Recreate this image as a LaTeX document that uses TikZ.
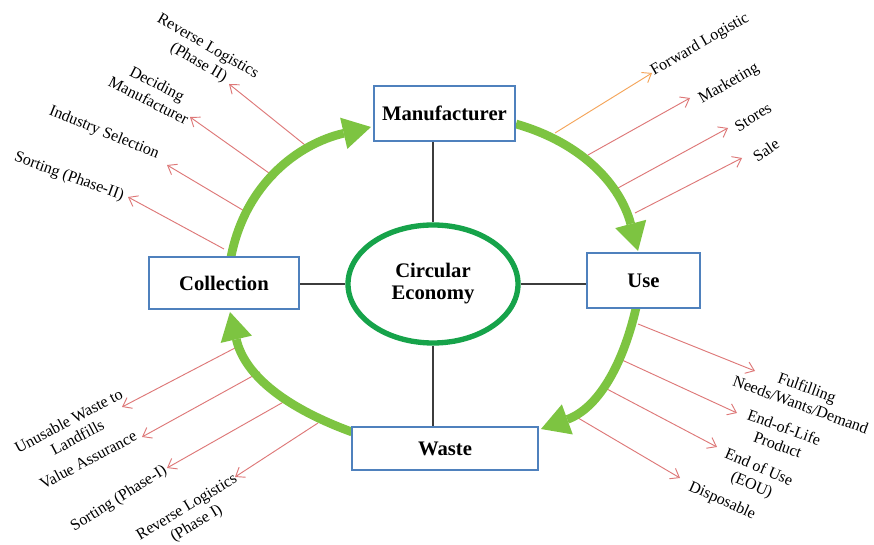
\documentclass[tikz,border=0pt]{standalone}
\usepackage{fontspec}
\setmainfont{Liberation Serif}
\usetikzlibrary{arrows.meta,shapes.geometric}
\definecolor{arcgreen}{RGB}{125,196,65}
\definecolor{ringgreen}{RGB}{22,163,74}
\definecolor{boxblue}{RGB}{79,129,189}
\definecolor{linkgray}{RGB}{60,60,60}
\definecolor{rayred}{RGB}{222,120,120}
\definecolor{rayorange}{RGB}{245,165,90}
\begin{document}
\begin{tikzpicture}[x=0.75pt,y=0.75pt,
  box/.style={draw=boxblue,line width=1.5pt,fill=white,inner sep=0pt,font=\fontsize{15.5}{18}\selectfont\bfseries},
  flow/.style={draw=arcgreen,line width=6.5pt,-{Triangle[length=21pt,width=24pt,line width=0pt]}},
  lnk/.style={draw=linkgray,line width=0.9pt},
  ray/.style={draw=rayred,line width=0.7pt,-{Straight Barb[length=6pt,width=9pt]}},
  lbl/.style={font=\fontsize{12}{14}\selectfont,align=center,inner sep=0pt}]
\useasboundingbox (0,0) rectangle (874,545);
\fill[white] (0,0) rectangle (874,545);

% ray start / end coordinates
\coordinate (s1) at (310,396); \coordinate (t1) at (229,461);
\coordinate (s2) at (276,367); \coordinate (t2) at (190,428);
\coordinate (s3) at (246,333); \coordinate (t3) at (167,380);
\coordinate (s4) at (224,296); \coordinate (t4) at (128,348);
\coordinate (s5) at (555,412); \coordinate (t5) at (652,472);
\coordinate (s6) at (588,390); \coordinate (t6) at (690,447);
\coordinate (s7) at (618,357); \coordinate (t7) at (728,417);
\coordinate (s8) at (635,332); \coordinate (t8) at (742,387);
\coordinate (s9) at (638,221); \coordinate (t9) at (755,174);
\coordinate (s10) at (622,185); \coordinate (t10) at (737,132);
\coordinate (s11) at (605,157); \coordinate (t11) at (717,98);
\coordinate (s12) at (573,130); \coordinate (t12) at (680,67);
\coordinate (s13) at (235,197); \coordinate (t13) at (122,138);
\coordinate (s14) at (260,173); \coordinate (t14) at (142,108);
\coordinate (s15) at (287,145); \coordinate (t15) at (167,77);
\coordinate (s16) at (318,122); \coordinate (t16) at (235,68);

\draw[ray] (s1) -- (t1);
\draw[ray] (s2) -- (t2);
\draw[ray] (s3) -- (t3);
\draw[ray] (s4) -- (t4);
\draw[ray,draw=rayorange] (s5) -- (t5);
\draw[ray] (s6) -- (t6);
\draw[ray] (s7) -- (t7);
\draw[ray] (s8) -- (t8);
\draw[ray] (s9) -- (t9);
\draw[ray] (s10) -- (t10);
\draw[ray] (s11) -- (t11);
\draw[ray] (s12) -- (t12);
\draw[ray] (s13) -- (t13);
\draw[ray] (s14) -- (t14);
\draw[ray] (s15) -- (t15);
\draw[ray] (s16) -- (t16);

% labels
\node[lbl,rotate=-30] (l1) at (203,490) {Reverse Logistics\\(Phase II)};
\node[lbl,rotate=-27] (l2) at (153,453) {Deciding\\Manufacturer};
\node[lbl,rotate=-22] (l3) at (104,412) {Industry Selection};
\node[lbl,rotate=-20] (l4) at (69,368) {Sorting (Phase-II)};
\node[lbl,rotate=30] (l5) at (700,500) {Forward Logistic};
\node[lbl,rotate=30] (l6) at (729,461) {Marketing};
\node[lbl,rotate=32] (l7) at (753,428) {Stores};
\node[lbl,rotate=34] (l8) at (766,395) {Sale};
\node[lbl,rotate=-20] (l9) at (804,149) {Fulfilling\\Needs/Wants/Demand};
\node[lbl,rotate=-20] (l10) at (781,109) {End-of-Life\\Product};
\node[lbl,rotate=-23] (l11) at (755,68) {End of Use\\(EOU)};
\node[lbl,rotate=-24] (l12) at (722,44) {Disposable};
\node[lbl,rotate=28] (l13) at (73,116) {Unusable Waste to\\Landfills};
\node[lbl,rotate=28] (l14) at (88,85) {Value Assurance};
\node[lbl,rotate=32] (l15) at (119,46) {Sorting (Phase-I)};
\node[lbl,rotate=31] (l16) at (192,29) {Reverse Logistics\\(Phase I)};

% green cycle
\coordinate (a1s) at (231,288); \coordinate (a1e) at (371,418);
\coordinate (a2s) at (516,421); \coordinate (a2e) at (638,294);
\coordinate (a3s) at (636,237); \coordinate (a3e) at (541,116);
\coordinate (a4s) at (352,113); \coordinate (a4e) at (230,233);
\draw[flow] (a1s) to[out=79,in=193] (a1e);
\draw[flow] (a2s) to[out=-16,in=105] (a2e);
\draw[flow] (a3s) to[out=-103,in=20] (a3e);
\draw[flow] (a4s) to[out=160,in=-77] (a4e);

% nodes
\node[box,minimum width=105.75pt,minimum height=41.25pt] (man) at (444.5,431.5) {Manufacturer};
\node[box,minimum width=112.5pt,minimum height=39pt] (col) at (224,262) {Collection};
\node[box,minimum width=84.75pt,minimum height=41.25pt] (use) at (643.5,264.5) {Use};
\node[box,minimum width=139.5pt,minimum height=32.25pt] (wst) at (445,96.5) {Waste};
\node[ellipse,draw=ringgreen,line width=4pt,minimum width=127.5pt,minimum height=88.5pt,inner sep=0pt,align=center,font=\fontsize{15.5}{16.5}\selectfont\bfseries] (ce) at (433,261) {Circular\\Economy};

% connectors
\draw[lnk] (ce.north) -- (ce.north |- man.south);
\draw[lnk] (ce.south) -- (ce.south |- wst.north);
\draw[lnk] (ce.west) -- (ce.west -| col.east);
\draw[lnk] (ce.east) -- (ce.east -| use.west);
\end{tikzpicture}
\end{document}
